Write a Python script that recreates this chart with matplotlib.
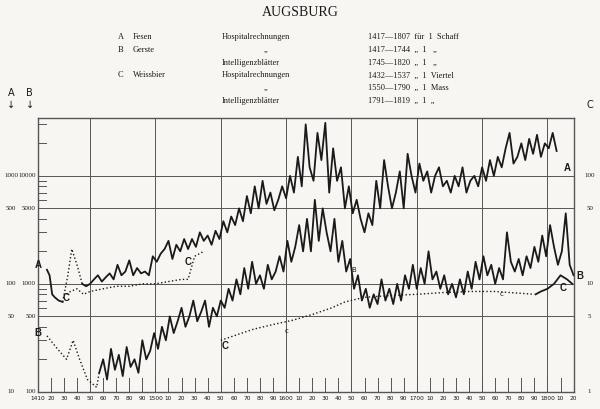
import matplotlib
matplotlib.use("Agg")
import matplotlib.pyplot as plt
import numpy as np

# A: Fesen (Schaff), B: Gerste (x10 scale), C: Weissbier (/10 scale)
a_early_years = [1417, 1419, 1421, 1423, 1426, 1429]
a_early_vals = [135, 120, 80, 75, 70, 68]
a_gap_years = [1429, 1433, 1436, 1440, 1444]
a_gap_vals = [68, 120, 210, 150, 100]
a_years = list(range(1444, 1808, 3))
a_vals = [100,95,100,110,120,105,115,125,110,150,120,130,165,120,140,125,130,120,180,160,190,210,250,170,230,200,260,
          210,260,220,300,250,280,230,310,260,380,300,420,350,500,380,650,450,800,500,900,550,700,480,600,800,620,1000,700,1500,800,3000,1200,900,2500,1400,3100,700,1800,900,1200,500,800,450,600,400,300,450,350,900,500,1400,800,500,700,1100,500,1600,1000,700,1300,900,1100,700,1000,1200,800,900,700,1000,800,1200,700,900,1000,800,1200,900,1400,1000,1500,1200,1800,2500,1300,1500,2000,1400,2200,1600,2400,1500,2000,1800,2500,1700]

b_gap_years = [1417, 1425, 1432, 1437, 1442, 1448, 1455, 1457]
b_gap_vals = [330, 250, 200, 300, 200, 130, 110, 150]
b_years = list(range(1457, 1821, 3))
b_vals = [150,200,130,250,160,220,140,260,170,200,150,300,200,240,350,250,400,300,500,350,450,600,400,500,700,450,550,700,400,600,500,700,600,900,700,1100,800,1400,900,1600,1000,1200,900,1500,1100,1300,1800,1300,2500,1600,2200,3500,2000,4000,2000,6000,2500,5000,3000,2000,4000,1600,2500,1300,1700,900,1200,700,900,600,800,650,1100,700,900,650,1000,700,1200,900,1500,900,1400,1000,2000,1100,1300,900,1200,800,1000,750,1100,800,1300,900,1600,1100,1800,1200,1500,1000,1400,1100,3000,1600,1300,1700,1200,1800,1400,2200,1600,2800,1800,3500,2200,1500,2000,4500,1500,1200]

c1_years = [1432, 1435, 1440, 1445, 1450, 1460, 1470, 1480, 1490, 1500, 1510, 1520, 1525, 1530, 1537]
c1_vals = [8, 8.5, 9, 8, 8.5, 9, 9.5, 9.5, 10, 10, 10.5, 11, 11, 18, 20]
c2_years = [1550, 1560, 1575, 1590, 1605, 1620, 1635, 1645, 1660, 1680, 1700, 1720, 1740, 1760, 1790]
c2_vals = [3, 3.3, 3.8, 4.2, 4.6, 5.2, 6, 6.8, 7.5, 7.8, 8, 8.3, 8.5, 8.5, 8]
c3_years = [1791, 1795, 1800, 1805, 1810, 1815, 1819]
c3_vals = [8, 8.5, 9, 10, 12, 11, 10]

left_a_labels = ["10", "50", "100", "500", "1000"]
left_b_labels = ["100", "500", "1000", "5000", "10000"]
right_c_labels = ["1", "5", "10", "50", "100"]
label_levels = [10, 50, 100, 500, 1000]

bg = "#f7f6f3"
fig = plt.figure(figsize=(6, 4.09), dpi=100, facecolor=bg)
ax = fig.add_axes([0.063, 0.042, 0.893, 0.67])
ax.set_facecolor(bg)
ax.set_yscale("log")
ax.set_xlim(1410, 1820)
ax.set_ylim(10, 3450)
ink = "#1a1a1a"
for s in ax.spines.values():
    s.set_color("#555")
    s.set_linewidth(1.0)
ax.set_xticks([]); ax.set_yticks([]); ax.minorticks_off()

for yr in range(1450, 1820, 50):
    ax.axvline(yr, color="#555", lw=0.7)
for lv in [50, 100, 500, 1000]:
    ax.axhline(lv, color="#555", lw=0.7)

for yr in range(1420, 1820, 10):
    ax.plot([yr, yr], [10, 13.5], color="#555", lw=0.7)
for lv in [20, 30, 40, 60, 70, 80, 90, 200, 300, 400, 600, 700, 800, 900, 2000, 3000]:
    ax.plot([1410, 1416], [lv, lv], color="#555", lw=0.7)

ax.plot(a_early_years, a_early_vals, color=ink, lw=1.3)
ax.plot(a_gap_years, a_gap_vals, color=ink, lw=1.0, ls=":")
ax.plot(a_years, a_vals, color=ink, lw=1.3)
ax.plot(b_gap_years, [v / 10 for v in b_gap_vals], color=ink, lw=1.0, ls=":")
ax.plot(b_years, [v / 10 for v in b_vals], color=ink, lw=1.3)
ax.plot(c1_years, [v * 10 for v in c1_vals], color=ink, lw=1.0, ls=":")
ax.plot(c2_years, [v * 10 for v in c2_vals], color=ink, lw=1.0, ls=":")
ax.plot(c3_years, [v * 10 for v in c3_vals], color=ink, lw=1.3)

fs = dict(fontsize=7, fontweight="bold", color=ink, family="Liberation Sans")
ax.text(1413, 140, "A", ha="right", **fs)
ax.text(1413, 33, "B", ha="right", **fs)
ax.text(1432, 70, "C", ha="center", **fs)
ax.text(1525, 150, "C", ha="center", **fs)
ax.text(1553, 25, "C", ha="center", **fs)
ax.text(1815, 1100, "A", ha="center", **fs)
ax.text(1822, 110, "B", ha="left", **fs)
ax.text(1812, 85, "C", ha="center", **fs)
ax.text(1652, 130, "B", ha="center", fontsize=5, color=ink)
ax.text(1600, 35, "c", ha="center", fontsize=5, color=ink)
ax.text(1765, 77, "c", ha="center", fontsize=5, color=ink)

small = dict(fontsize=5, color=ink, family="Liberation Serif Narrow" if False else "Liberation Serif", va="center")
trans = ax.get_yaxis_transform()
for lv, la, lb, lc in zip(label_levels, left_a_labels, left_b_labels, right_c_labels):
    ax.text(-0.05, lv, la, transform=trans, ha="center", **small)
    ax.text(-0.004, lv, lb, transform=trans, ha="right", **small)
    ax.text(1.03, lv, lc, transform=trans, ha="center", **small)
ax.text(-0.05, 1.03, "A\n↓", transform=ax.transAxes, ha="center", va="bottom", fontsize=7, family="DejaVu Sans", color=ink)
ax.text(-0.015, 1.03, "B\n↓", transform=ax.transAxes, ha="center", va="bottom", fontsize=7, family="DejaVu Sans", color=ink)
ax.text(1.03, 1.03, "C", transform=ax.transAxes, ha="center", va="bottom", fontsize=7, family="DejaVu Sans", color=ink)

xt = ax.get_xaxis_transform()
for yr in range(1410, 1830, 10):
    lab = str(yr) if yr % 100 == 0 or yr == 1410 else str(yr % 100)
    ax.text(yr, -0.015, lab, transform=xt, ha="center", va="top", fontsize=4.2, color=ink, family="Liberation Sans Narrow")

hdr = dict(fontsize=6, color=ink, family="Liberation Serif", va="center")
fig.text(0.5, 1 - 13 / 409, "AUGSBURG", ha="center", va="center", fontsize=10, color=ink, family="Liberation Serif")
rows = [
    ("A", "Fesen", "Hospitalrechnungen", "1417—1807  für  1  Schaff"),
    ("B", "Gerste", "„", "1417—1744  „  1   „"),
    ("", "", "Intelligenzblätter", "1745—1820  „  1   „"),
    ("C", "Weissbier", "Hospitalrechnungen", "1432—1537  „  1  Viertel"),
    ("", "", "„", "1550—1790  „  1  Mass"),
    ("", "", "Intelligenzblätter", "1791—1819  „  1  „"),
]
for i, (k, n, src, d) in enumerate(rows):
    y = 1 - (37 + 12.8 * i) / 409
    fig.text(118 / 600, y, k, **hdr)
    fig.text(133 / 600, y, n, **hdr)
    if src == "„":
        fig.text(266 / 600, y, src, ha="center", **hdr)
    else:
        fig.text(222 / 600, y, src, **hdr)
    fig.text(368 / 600, y, d, **hdr)

fig.savefig("out.png", dpi=100, facecolor=bg)
